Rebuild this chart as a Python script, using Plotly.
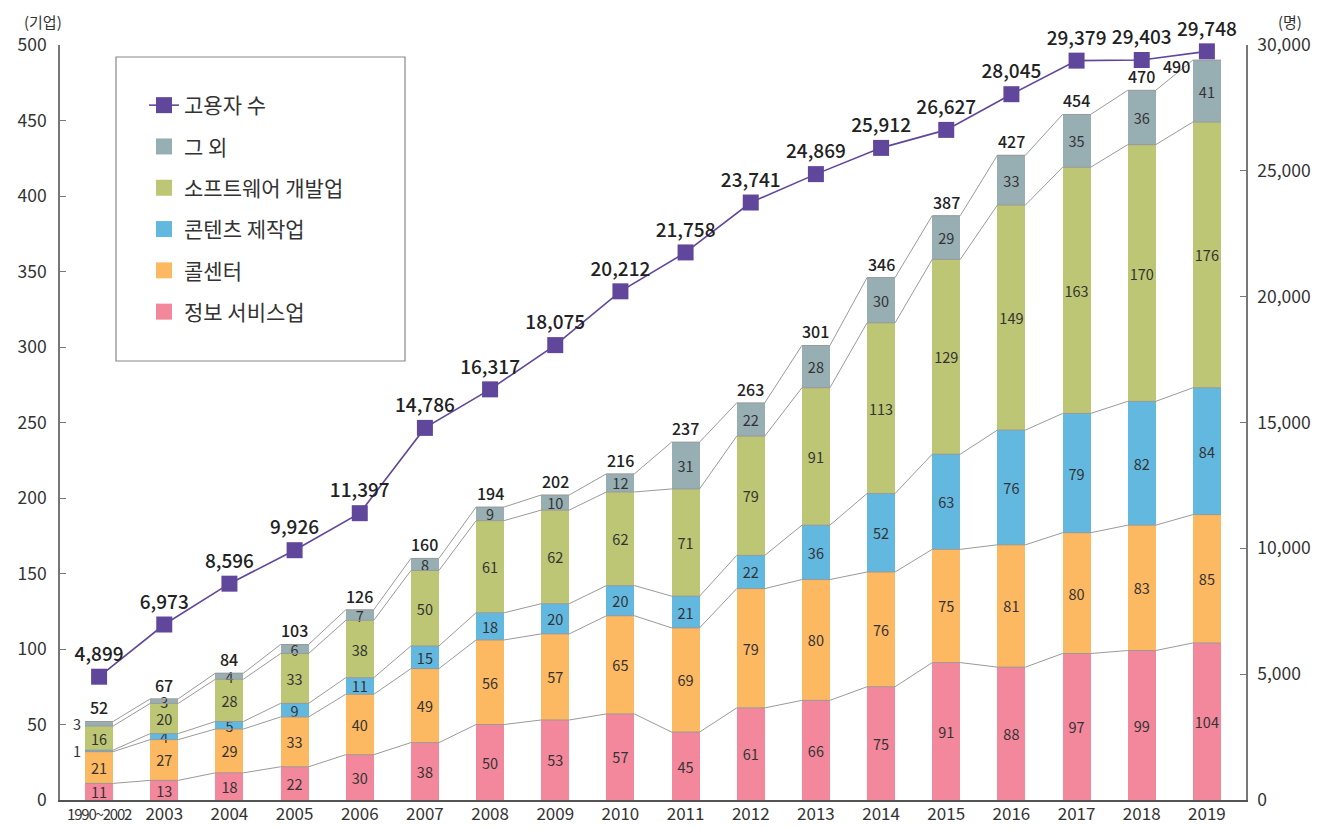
import plotly.graph_objects as go

categories = ["1990~2002", "2003", "2004", "2005", "2006", "2007", "2008", "2009", "2010",
              "2011", "2012", "2013", "2014", "2015", "2016", "2017", "2018", "2019"]
info_service = [11, 13, 18, 22, 30, 38, 50, 53, 57, 45, 61, 66, 75, 91, 88, 97, 99, 104]
call_center = [21, 27, 29, 33, 40, 49, 56, 57, 65, 69, 79, 80, 76, 75, 81, 80, 83, 85]
contents = [1, 4, 5, 9, 11, 15, 18, 20, 20, 21, 22, 36, 52, 63, 76, 79, 82, 84]
software = [16, 20, 28, 33, 38, 50, 61, 62, 62, 71, 79, 91, 113, 129, 149, 163, 170, 176]
others = [3, 3, 4, 6, 7, 8, 9, 10, 12, 31, 22, 28, 30, 29, 33, 35, 36, 41]
totals = [52, 67, 84, 103, 126, 160, 194, 202, 216, 237, 263, 301, 346, 387, 427, 454, 470, 490]
employees = [4899, 6973, 8596, 9926, 11397, 14786, 16317, 18075, 20212, 21758,
             23741, 24869, 25912, 26627, 28045, 29379, 29403, 29748]

series = [
    ("정보 서비스업", info_service, "#F3889D"),
    ("콜센터", call_center, "#FDB862"),
    ("콘텐츠 제작업", contents, "#63B8E0"),
    ("소프트웨어 개발업", software, "#BCC674"),
    ("그 외", others, "#97AEB3"),
]
LINE_COLOR = "#60479B"
FONT = "Noto Sans CJK KR"
TXT = "#333333"
BW = 0.43

# page body has an 8px margin: figure is sized so the plot area lands where the reference has it
W, H = 1331, 820
ML, MR, MT, MB = 52, 93, 37, 28
PW = W - ML - MR
PH = H - MT - MB

x = list(range(len(categories)))
fig = go.Figure()

# stacked bars
for name, vals, col in series:
    texts = [str(v) for v in vals]
    if name in ("콘텐츠 제작업", "그 외"):
        texts[0] = ""
    fig.add_trace(go.Bar(
        x=x, y=vals, name=name, marker=dict(color=col, line=dict(width=0)),
        width=BW, text=texts, textposition="inside", insidetextanchor="middle",
        textangle=0, constraintext="none", cliponaxis=False,
        textfont=dict(family=FONT, size=14.5, color=TXT),
        showlegend=False, hoverinfo="skip",
    ))

# connector lines between cumulative levels
cum = [0] * len(x)
for name, vals, col in series:
    cum = [c + v for c, v in zip(cum, vals)]
    cx, cy = [], []
    for i in x:
        cx += [i - BW / 2, i + BW / 2]
        cy += [cum[i], cum[i]]
    fig.add_trace(go.Scatter(x=cx, y=cy, mode="lines", line=dict(color="#9a9a9a", width=1),
                             showlegend=False, hoverinfo="skip"))

# employees line
fig.add_trace(go.Scatter(
    x=x, y=employees, yaxis="y2", name="고용자 수", mode="lines+markers+text",
    line=dict(color=LINE_COLOR, width=1.6),
    marker=dict(symbol="square", size=16, color=LINE_COLOR),
    text=[f"{v:,}" for v in employees], textposition="top center",
    textfont=dict(family=FONT, size=19, color="#222222", weight=500),
    cliponaxis=False, legendrank=1, legendgroup="g0", hoverinfo="skip",
))

# legend proxies
for rank, (name, vals, col) in enumerate(reversed(series), start=2):
    fig.add_trace(go.Scatter(
        x=[None], y=[None], name=name, mode="markers",
        marker=dict(symbol="square", size=16, color=col),
        legendrank=rank, legendgroup=f"g{rank}",
    ))

ann = []
for i, t in enumerate(totals):
    if i == len(totals) - 1:
        ann.append(dict(x=i - BW / 2, y=t, xref="x", yref="y", text=str(t), showarrow=False,
                        xanchor="right", yanchor="middle", yshift=-6, xshift=-1,
                        font=dict(family=FONT, size=16, color="#222222", weight=500)))
    else:
        ann.append(dict(x=i, y=t, xref="x", yref="y", text=str(t), showarrow=False,
                        yanchor="bottom", yshift=0,
                        font=dict(family=FONT, size=16, color="#222222", weight=500)))
# small first-bar labels placed outside
ann.append(dict(x=-BW / 2, y=info_service[0] + call_center[0] + contents[0] + software[0] + others[0] / 2,
                xref="x", yref="y", text=str(others[0]), showarrow=False, xanchor="right",
                yanchor="middle", xshift=-2, font=dict(family=FONT, size=14.5, color=TXT)))
ann.append(dict(x=-BW / 2, y=info_service[0] + call_center[0] + contents[0] / 2,
                xref="x", yref="y", text=str(contents[0]), showarrow=False, xanchor="right",
                yanchor="middle", xshift=-2, font=dict(family=FONT, size=14.5, color=TXT)))
# axis unit titles (pixel positions converted to paper coords)
def px(xp):
    return (xp - 8 - ML) / PW
def py(yp):
    return (H - MB - (yp - 8)) / PH
ann.append(dict(x=px(43), y=py(21), xref="paper", yref="paper", text="(기업)", showarrow=False,
                xanchor="center", yanchor="middle", font=dict(family=FONT, size=15, color=TXT)))
ann.append(dict(x=px(1290), y=py(21), xref="paper", yref="paper", text="(명)", showarrow=False,
                xanchor="center", yanchor="middle", font=dict(family=FONT, size=15, color=TXT)))

ticktext = ["<span style='font-size:15px;letter-spacing:-1.2px'>1990~2002</span>"] + categories[1:]

fig.update_layout(
    width=W, height=H,
    margin=dict(l=ML, r=MR, t=MT, b=MB),
    paper_bgcolor="white", plot_bgcolor="white",
    barmode="stack",
    font=dict(family=FONT, color=TXT),
    showlegend=True,
    legend=dict(x=px(144), y=py(85), xanchor="left", yanchor="top",
                bgcolor="rgba(0,0,0,0)", borderwidth=0,
                font=dict(family=FONT, size=21, color="#333333"),
                traceorder="grouped", tracegroupgap=11, itemwidth=30),
    xaxis=dict(range=[-0.6, 17.6], tickmode="array", tickvals=x, ticktext=ticktext,
               showline=True, linecolor="#555555", linewidth=1.5, ticks="",
               showgrid=False, zeroline=False, automargin=False, ticklabelstandoff=-2,
               tickfont=dict(family=FONT, size=17, color=TXT)),
    yaxis=dict(range=[0, 500], dtick=50, showline=True, linecolor="#777777", linewidth=1.5,
               ticks="inside", ticklen=6, tickcolor="#777777", showgrid=False, zeroline=False,
               automargin=False, ticklabelstandoff=8,
               tickfont=dict(family=FONT, size=17.5, color=TXT)),
    yaxis2=dict(range=[0, 30000], dtick=5000, overlaying="y", side="right", tickformat=",",
                showline=True, linecolor="#777777", linewidth=1.5, ticks="inside", ticklen=6,
                tickcolor="#777777", showgrid=False, zeroline=False, automargin=False,
                ticklabelstandoff=6, tickfont=dict(family=FONT, size=17.5, color=TXT)),
    shapes=[dict(type="rect", xref="paper", yref="paper",
                 x0=px(116), x1=px(405), y0=py(361), y1=py(57),
                 line=dict(color="#888888", width=1.2), fillcolor="rgba(0,0,0,0)")],
    annotations=ann,
)

fig.write_html("out.html")
